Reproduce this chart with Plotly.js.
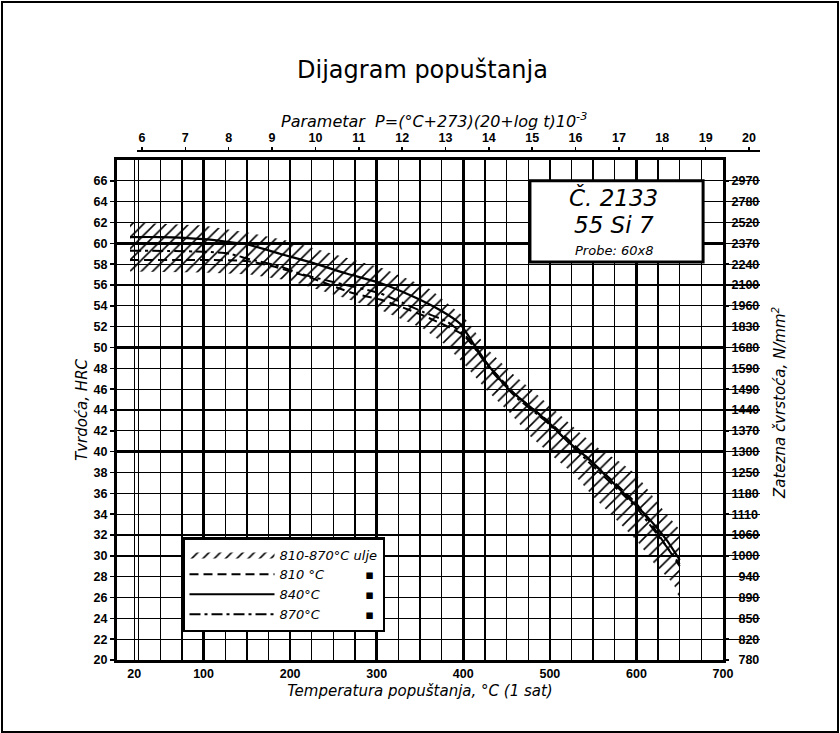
<!DOCTYPE html>
<html><head><meta charset="utf-8">
<script src="https://cdn.plot.ly/plotly-3.0.1.min.js"></script>
<style>
html,body{margin:0;padding:0;background:#fff}
#frame{position:absolute;left:1px;top:1px;width:834px;height:728px;border:2px solid #000;pointer-events:none}
</style>
</head><body>
<div id="chart" style="width:840px;height:733px"></div>
<div id="frame"></div>
<script>
// ---- data ----
const tempTicks = [20, 100, 200, 300, 400, 500, 600, 700];
const paramTicks = [6, 7, 8, 9, 10, 11, 12, 13, 14, 15, 16, 17, 18, 19, 20];
const hrcTicks = [20, 22, 24, 26, 28, 30, 32, 34, 36, 38, 40, 42, 44, 46, 48, 50, 52, 54, 56, 58, 60, 62, 64, 66];
const strengthLabels = ["780", "820", "850", "890", "940", "1000", "1060", "1110", "1180", "1250", "1300", "1370",
  "1440", "1490", "1590", "1680", "1830", "1960", "2100", "2240", "2370", "2520", "2780", "2970"];
const majorTempGrid = [100, 200, 300, 400, 500, 600];
const majorHrcGrid = [30, 40, 50, 60];

// scatter band 810-870 °C (oil)
const bandUpperT = [15, 100, 154, 200, 261, 307, 338, 362, 400, 431, 458, 481, 508, 535, 558, 581, 600, 627, 650];
const bandUpperH = [62.0, 61.7, 61.0, 60.2, 58.7, 57.6, 56.5, 55.6, 53.0, 49.6, 47.4, 45.8, 43.8, 41.8, 40.2, 39.0, 37.8, 34.8, 32.5];
const bandLowerT = [15, 100, 154, 200, 261, 307, 354, 377, 400, 427, 454, 477, 504, 527, 550, 573, 600, 620, 643, 650];
const bandLowerH = [57.3, 57.2, 57.0, 56.4, 54.8, 53.5, 51.8, 50.4, 48.5, 45.9, 43.7, 41.5, 39.5, 37.9, 35.7, 33.8, 31.5, 29.3, 27.3, 25.8];

// 810 °C (dashed)
const t810 = [15, 100, 150, 180, 220, 273, 304, 350, 400, 430, 460, 500, 550, 600, 650];
const h810 = [58.4, 58.4, 58.3, 57.8, 56.8, 55.2, 54.6, 53.2, 51.2, 48.2, 45.5, 42.8, 38.9, 35.0, 29.0];
// 840 °C (solid)
const t840 = [15, 50, 100, 150, 188, 227, 265, 304, 342, 373, 396, 410, 427, 450, 473, 496, 519, 542, 566, 589, 612, 635, 650];
const h840 = [60.6, 60.6, 60.4, 59.9, 59.0, 58.1, 57.1, 56.2, 54.9, 53.6, 52.3, 50.6, 48.5, 46.2, 44.6, 43.0, 41.1, 39.5, 37.6, 35.7, 33.8, 31.5, 29.6];
// 870 °C (dash-dot)
const t870 = [15, 100, 130, 152, 188, 211, 254, 304, 354, 381, 404, 430, 460, 500, 550, 600, 650];
const h870 = [59.3, 59.2, 59.0, 58.5, 57.8, 57.1, 56.2, 55.2, 53.4, 52.5, 51.0, 48.0, 45.3, 42.6, 38.6, 34.6, 29.2];

const NB = '\u00a0';
const FS = '\u2007';
const legendNames = [
  '810-870°C' + NB + 'ulje',
  '810' + NB + '°C' + NB.repeat(10) + '▪',
  '840°C' + NB.repeat(11) + '▪',
  '870°C' + NB.repeat(11) + '▪'
];

const italic = {family: 'DejaVu Sans, sans-serif', style: 'italic', size: 15, color: 'black'};
const tickBold = {family: 'Liberation Sans, Arial, sans-serif', size: 12.5, weight: 'bold', color: 'black'};

const traces = [
  {
    x: bandUpperT.concat(bandLowerT.slice().reverse()),
    y: bandUpperH.concat(bandLowerH.slice().reverse()),
    type: 'scatter', mode: 'lines', fill: 'toself',
    fillcolor: 'rgba(0,0,0,0)',
    fillpattern: {shape: '/', fgcolor: 'black', bgcolor: 'rgba(0,0,0,0)', size: 8, solidity: 0.2},
    line: {width: 0, color: 'black'},
    name: legendNames[0], hoverinfo: 'skip'
  },
  {x: t810, y: h810, type: 'scatter', mode: 'lines', name: legendNames[1],
   line: {color: 'black', width: 2, dash: '9px,5px', shape: 'spline', smoothing: 0.5}},
  {x: t840, y: h840, type: 'scatter', mode: 'lines', name: legendNames[2],
   line: {color: 'black', width: 2.2, shape: 'spline', smoothing: 0.5}},
  {x: t870, y: h870, type: 'scatter', mode: 'lines', name: legendNames[3],
   line: {color: 'black', width: 2, dash: '11px,4px,3px,4px', shape: 'spline', smoothing: 0.5}},
  // helpers so the secondary axes are drawn
  {x: [null], y: [null], xaxis: 'x2', yaxis: 'y', showlegend: false, hoverinfo: 'skip', type: 'scatter'},
  {x: [null], y: [null], xaxis: 'x', yaxis: 'y2', showlegend: false, hoverinfo: 'skip', type: 'scatter'},
  {x: [null], y: [null], xaxis: 'x3', yaxis: 'y', showlegend: false, hoverinfo: 'skip', type: 'scatter'},
  {x: [null], y: [null], xaxis: 'x', yaxis: 'y3', showlegend: false, hoverinfo: 'skip', type: 'scatter'}
];

const xDom = [0, 606 / 643];
const yDom = [0, 500 / 510];

const layout = {
  width: 840, height: 733,
  margin: {l: 117, r: 80, t: 150, b: 73, pad: 0},
  paper_bgcolor: 'white', plot_bgcolor: 'rgba(0,0,0,0)',
  font: {family: 'Liberation Sans, Arial, sans-serif', color: 'black', size: 12},
  title: {text: 'Dijagram popuštanja', xref: 'container', yref: 'container', x: 0.503, y: 1 - 70 / 733,
          xanchor: 'center', yanchor: 'middle', font: {family: 'DejaVu Sans, sans-serif', size: 24, color: 'black'}},
  showlegend: true,
  legend: {x: (182 - 117) / 643, y: (660 - 537) / 510, xanchor: 'left', yanchor: 'top',
           bgcolor: 'white', bordercolor: 'black', borderwidth: 2.5, itemwidth: 85,
           traceorder: 'normal', font: {family: 'DejaVu Sans, sans-serif', style: 'italic', size: 13, color: 'black'}},
  xaxis: {
    domain: xDom, range: [0, 700], tickmode: 'array', tickvals: tempTicks, ticktext: tempTicks.map(String),
    showgrid: true, gridcolor: 'black', gridwidth: 1.3,
    minor: {tick0: 0, dtick: 25, showgrid: true, gridcolor: 'black', gridwidth: 1.3, ticks: ''},
    showline: true, mirror: true, linecolor: 'black', linewidth: 3, ticks: '', zeroline: false,
    tickfont: tickBold,
    title: {text: 'Temperatura popuštanja, °C (1 sat)', font: italic, standoff: 6}
  },
  xaxis2: {
    anchor: 'free', position: 1, side: 'top', domain: [20 / 643, 1], range: [5.885, 20.254],
    tickmode: 'array', tickvals: paramTicks, ticktext: paramTicks.map(String),
    showgrid: false, zeroline: false, showline: true, linecolor: 'black', linewidth: 1.5,
    ticks: 'outside', ticklen: 3, tickwidth: 1.5, tickcolor: 'black', tickfont: tickBold
  },
  xaxis3: {
    overlaying: 'x', range: [0, 700], tickmode: 'array', tickvals: majorTempGrid,
    showticklabels: false, showgrid: true, gridcolor: 'black', gridwidth: 2.6, zeroline: false, ticks: ''
  },
  yaxis: {
    domain: yDom, range: [20, 68], tickmode: 'array', tickvals: hrcTicks, ticktext: hrcTicks.map(String),
    showgrid: true, gridcolor: 'black', gridwidth: 1.3,
    showline: true, mirror: true, linecolor: 'black', linewidth: 3, zeroline: false,
    ticks: 'outside', ticklen: 4, tickwidth: 1.5, tickcolor: 'black', tickfont: tickBold,
    title: {text: 'Tvrdoća, HRC', font: italic, standoff: 3}
  },
  yaxis2: {
    overlaying: 'y', side: 'right', range: [20, 68], tickmode: 'array', tickvals: hrcTicks,
    ticktext: strengthLabels.map(s => s.length < 4 ? FS + s : s),
    showgrid: false, zeroline: false, showline: false,
    ticks: 'outside', ticklen: 5, tickwidth: 1.5, tickcolor: 'black', tickfont: tickBold
  },
  yaxis3: {
    overlaying: 'y', range: [20, 68], tickmode: 'array', tickvals: majorHrcGrid,
    showticklabels: false, showgrid: true, gridcolor: 'black', gridwidth: 2.6, zeroline: false, ticks: ''
  },
  shapes: [
    {type: 'rect', xref: 'x', yref: 'y', x0: 477, x1: 677, y0: 58.2, y1: 66,
     fillcolor: 'white', line: {color: 'black', width: 3}, layer: 'above'}
  ],
  annotations: [
    {xref: 'x', yref: 'y', x: 574, y: 64.4, text: 'Č. 2133', showarrow: false,
     font: {family: 'DejaVu Sans, sans-serif', style: 'italic', size: 23, color: 'black'}},
    {xref: 'x', yref: 'y', x: 574, y: 61.8, text: '55 Si 7', showarrow: false,
     font: {family: 'DejaVu Sans, sans-serif', style: 'italic', size: 23, color: 'black'}},
    {xref: 'x', yref: 'y', x: 574, y: 59.36, text: 'Probe: 60x8', showarrow: false,
     font: {family: 'DejaVu Sans, sans-serif', style: 'italic', size: 13, color: 'black'}},
    {xref: 'paper', yref: 'paper', x: (434 - 117) / 643, y: (660 - 120) / 510, xanchor: 'center', yanchor: 'middle',
     text: 'Parametar  P=(°C+273)(20+log t)10<sup>-3</sup>', showarrow: false,
     font: {family: 'DejaVu Sans, sans-serif', style: 'italic', size: 16, color: 'black'}},
    {xref: 'paper', yref: 'paper', x: (779 - 117) / 643, y: (660 - 403) / 510, xanchor: 'center', yanchor: 'middle',
     textangle: -90, text: 'Zatezna čvrstoća, N/mm<sup>2</sup>', showarrow: false, font: italic}
  ]
};

Plotly.newPlot('chart', traces, layout, {displayModeBar: false, staticPlot: true});
</script>
</body></html>
